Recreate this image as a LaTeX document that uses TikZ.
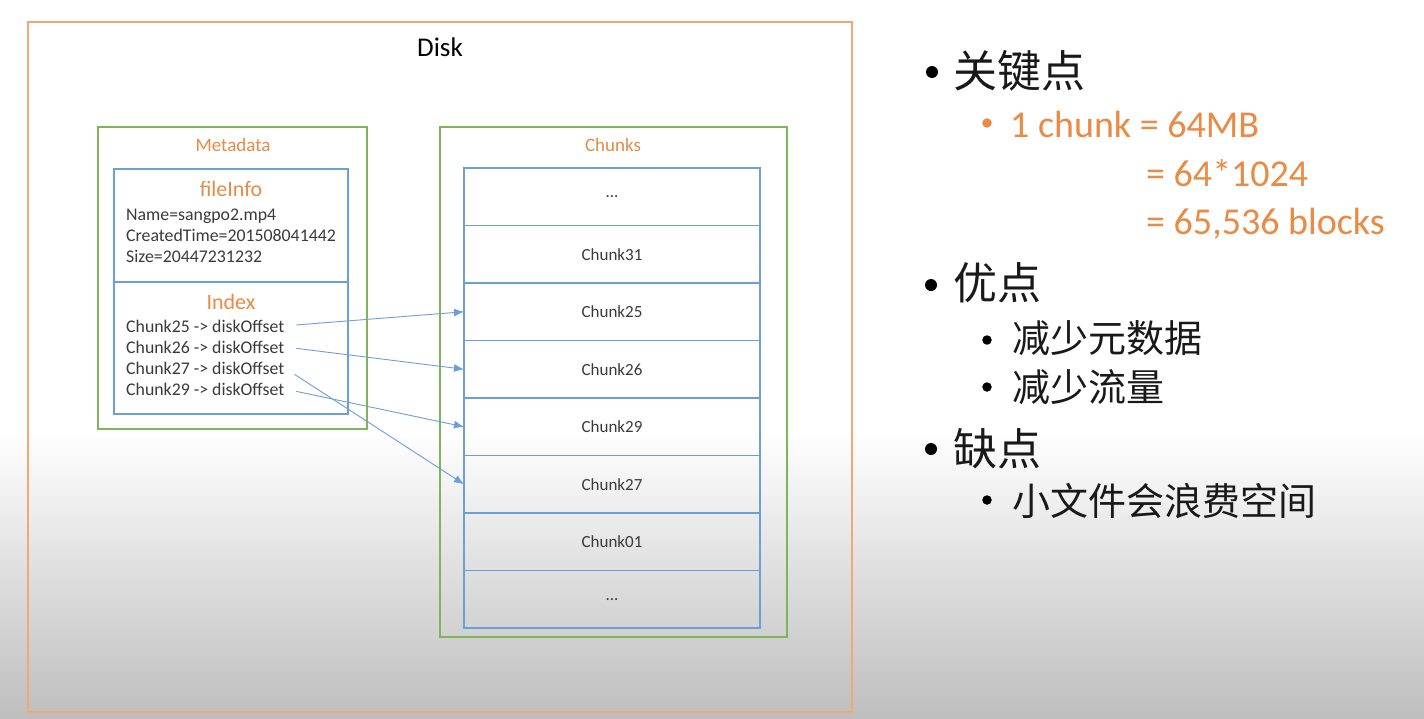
\documentclass[tikz,border=0pt]{standalone}
\usepackage{fontspec}
\setmainfont{Carlito}
\newfontfamily\cjk{Noto Sans CJK SC}
\usetikzlibrary{positioning,arrows.meta}
\definecolor{DkOrange}{HTML}{E98A45}
\definecolor{DkPeach}{HTML}{F0A878}
\definecolor{DkGreen}{HTML}{80B45A}
\definecolor{DkBlue}{HTML}{6A9FD8}
\definecolor{DkText}{HTML}{3A3A3A}
\definecolor{DkShade}{HTML}{BEBEBE}
\tikzset{
  dkBase/.style={
    inner sep=0pt,
    outer sep=0pt,
    line width=1.5pt
  },
  dkDisk/.style={
    dkBase,
    draw=DkPeach,
    line width=2pt
  },
  dkGroup/.style={
    dkBase,
    draw=DkGreen
  },
  dkBlock/.style={
    dkBase,
    draw=DkBlue,
    minimum width=234pt
  },
  dkRow/.style={
    dkBase,
    draw=DkBlue,
    minimum width=296pt,
    minimum height=57.5pt,
    font=\fontsize{17}{20}\selectfont,
    text=DkText
  },
  dkHead/.style={
    font=\fontsize{19}{21}\selectfont,
    text=DkOrange
  },
  dkTitle/.style={
    font=\fontsize{22}{24}\selectfont,
    text=DkOrange
  },
  dkText/.style={
    anchor=base west,
    inner sep=0pt,
    font=\fontsize{17.8}{21}\selectfont,
    text=DkText
  },
  dkArrow/.style={
    draw=DkBlue,
    line width=0.9pt,
    shorten <=12pt,
    -{Latex[length=10pt,width=8pt]}
  },
  dkItem/.style={
    anchor=base west,
    inner sep=0pt,
    font=\cjk\fontsize{44}{48}\selectfont,
    text=black!90
  },
  dkSub/.style={
    anchor=base west,
    inner sep=0pt,
    font=\cjk\fontsize{38}{42}\selectfont,
    text=black!90
  },
  dkNote/.style={
    anchor=base west,
    inner sep=0pt,
    font=\fontsize{38}{42}\selectfont,
    text=DkOrange
  },
  dkDot/.style={
    circle,
    fill=black,
    inner sep=0pt,
    minimum size=12pt
  },
  dkSubDot/.style={
    dkDot,
    minimum size=9.5pt
  }
}
\begin{document}
\begin{tikzpicture}[x=1pt,y=-1pt]
    % Fondo
    \useasboundingbox (0,0) rectangle (1424,718);
    \fill[white] (0,0) rectangle (1424,430);
    \shade[top color=white, bottom color=DkShade] (0,430) rectangle (1424,718);

    % Disco
    \node (disk) [dkDisk, minimum width=824pt, minimum height=690pt] at (440,367) {};
    \node (disk_label) [font=\fontsize{27}{30}\selectfont, text=black] at (440,47) {Disk};

    % Metadata
    \node (meta) [dkGroup, minimum width=269pt, minimum height=302pt] at (232.5,278) {};
    \node (meta_label) [dkHead] at (233,145) {Metadata};
    \node (file_info) [dkBlock, minimum height=113pt] at (231,225.5) {};
    \node (index) [dkBlock, below=0pt of file_info, minimum height=132pt] {};

    \node (fi_title) [dkTitle] at (231,189) {fileInfo};
    \node (fi_name) [dkText] at (126,220) {Name=sangpo2.mp4};
    \node (fi_time) [dkText] at (126,241) {CreatedTime=201508041442};
    \node (fi_size) [dkText] at (126,262) {Size=20447231232};

    \node (idx_title) [dkTitle] at (231,302) {Index};
    \node (idx25) [dkText] at (126,332) {Chunk25 -> diskOffset};
    \node (idx26) [dkText] at (126,353) {Chunk26 -> diskOffset};
    \node (idx27) [dkText] at (126,374) {Chunk27 -> diskOffset};
    \node (idx29) [dkText] at (126,395) {Chunk29 -> diskOffset};

    % Chunks
    \node (chunks) [dkGroup, minimum width=347pt, minimum height=510pt] at (613.5,382) {};
    \node (chunks_label) [dkHead] at (613,145) {Chunks};
    \node (c_top) [dkRow, text depth=-3pt] at (612,196.75) {...};
    \node (c31) [dkRow, below=0pt of c_top] {Chunk31};
    \node (c25) [dkRow, below=0pt of c31] {Chunk25};
    \node (c26) [dkRow, below=0pt of c25] {Chunk26};
    \node (c29) [dkRow, below=0pt of c26] {Chunk29};
    \node (c27) [dkRow, below=0pt of c29] {Chunk27};
    \node (c01) [dkRow, below=0pt of c27] {Chunk01};
    \node (c_end) [dkRow, below=0pt of c01] {...};

    \draw [dkArrow] (idx25.east) -- (c25.west);
    \draw [dkArrow] (idx26.east) -- (c26.west);
    \draw [dkArrow] (idx27.east) -- (c27.west);
    \draw [dkArrow] (idx29.east) -- (c29.west);

    % Lista de la derecha
    \node (kp_dot) [dkDot] at (932,72) {};
    \node (kp) [dkItem] at (953,87) {关键点};
    \node (size_dot) [dkSubDot, fill=DkOrange] at (987,123) {};
    \node (size1) [dkNote] at (1010,137) {1 chunk = 64MB};
    \node (size2) [dkNote] at (1146,186) {= 64*1024};
    \node (size3) [dkNote] at (1146,234) {= 65,536 blocks};

    \node (pro_dot) [dkDot] at (931,285) {};
    \node (pro) [dkItem] at (953,299) {优点};
    \node (pro1_dot) [dkSubDot] at (987,340) {};
    \node (pro1) [dkSub] at (1012,352) {减少元数据};
    \node (pro2_dot) [dkSubDot] at (987,387) {};
    \node (pro2) [dkSub] at (1012,401) {减少流量};

    \node (con_dot) [dkDot] at (931,449) {};
    \node (con) [dkItem] at (953,465) {缺点};
    \node (con1_dot) [dkSubDot] at (987,500) {};
    \node (con1) [dkSub] at (1012,515) {小文件会浪费空间};
  \end{tikzpicture}
\end{document}
